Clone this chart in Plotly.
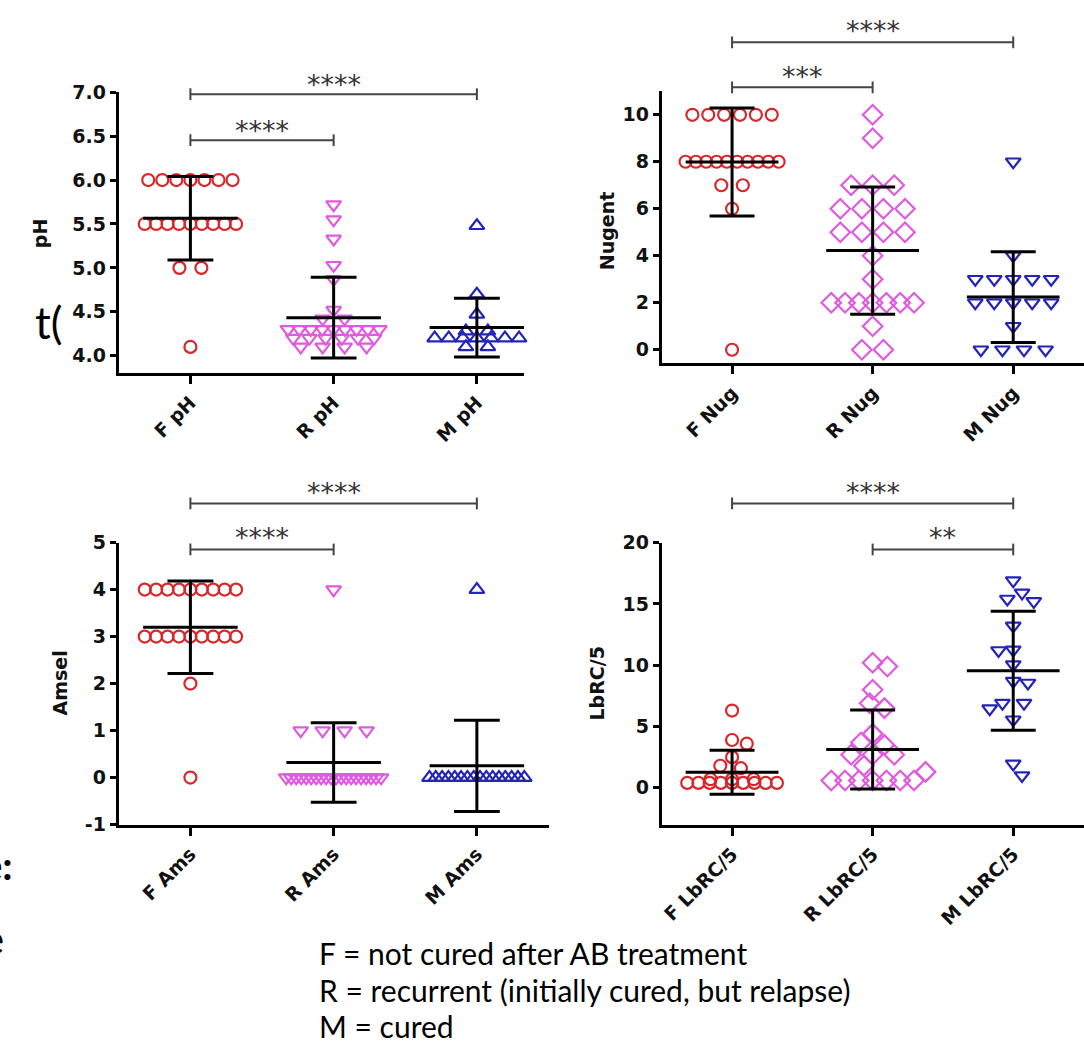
import numpy as np
import plotly.graph_objects as go

FIG_W, FIG_H = 1084, 1049

# ---------------- data ----------------
ph_labels = ["F pH", "R pH", "M pH"]
ph_F = [6.0, 6.0, 6.0, 6.0, 6.0, 6.0, 6.0, 5.5, 5.5, 5.5, 5.5, 5.5, 5.5, 5.5, 5.5, 5.5, 5.0, 5.0, 4.1]
ph_R = [5.72, 5.55, 5.33, 5.03, 4.87, 4.52, 4.42, 4.42,
        4.3, 4.3, 4.3, 4.3, 4.3, 4.3, 4.3, 4.3, 4.3,
        4.2, 4.2, 4.2, 4.2, 4.2, 4.2, 4.1, 4.1, 4.1, 4.1]
ph_M = [5.48, 4.7, 4.47, 4.28, 4.28, 4.2, 4.2, 4.2, 4.2, 4.2, 4.2, 4.2, 4.1, 4.1]
ph_mean = [5.565, 4.433, 4.32]
ph_sd = [0.475, 0.46, 0.335]

nug_labels = ["F Nug", "R Nug", "M Nug"]
nug_F = [10, 10, 10, 10, 10, 10, 8, 8, 8, 8, 8, 8, 8, 8, 8, 8, 7, 7, 6, 0]
nug_R = [10, 9, 7, 7, 7, 6, 6, 6, 6, 5, 5, 5, 5, 4, 3, 2, 2, 2, 2, 2, 2, 2, 1, 0, 0]
nug_M = [8, 4, 3, 3, 3, 3, 3, 2, 2, 2, 2, 2, 1, 0, 0, 0, 0]
nug_mean = [7.99, 4.22, 2.24]
nug_sd = [2.295, 2.71, 1.93]

ams_labels = ["F Ams", "R Ams", "M Ams"]
ams_F = [4, 4, 4, 4, 4, 4, 4, 4, 4, 3, 3, 3, 3, 3, 3, 3, 3, 3, 2, 0]
ams_R = [4, 1, 1, 1, 1, 0, 0, 0, 0, 0, 0, 0, 0, 0, 0, 0, 0, 0, 0, 0, 0, 0, 0, 0, 0]
ams_M = [4, 0, 0, 0, 0, 0, 0, 0, 0, 0, 0, 0, 0, 0, 0, 0, 0]
ams_mean = [3.2, 0.32, 0.25]
ams_sd = [0.985, 0.845, 0.97]

lb_labels = ["F LbRC/5", "R LbRC/5", "M LbRC/5"]
lb_F = [6.3, 3.9, 3.6, 2.5, 1.8, 1.6, 0.7, 0.7, 0.7,
        0.4, 0.4, 0.4, 0.4, 0.4, 0.4, 0.4, 0.4, 0.4]
lb_R = [10.2, 9.9, 8.0, 6.9, 6.5, 4.4, 3.7, 3.5, 2.7, 2.7, 2.7, 1.8, 1.3,
        0.6, 0.6, 0.6, 0.6, 0.6, 0.6, 0.6]
lb_M = [16.9, 15.9, 15.4, 15.2, 13.2, 11.25, 11.2, 10.05, 8.7, 8.55,
        6.9, 6.9, 6.45, 5.55, 1.95, 1.0]
lb_mean = [1.27, 3.12, 9.55]
lb_sd = [1.8, 3.22, 4.85]

ph_sig = [(0, 2, "****"), (0, 1, "****")]
nug_sig = [(0, 2, "****"), (0, 1, "***")]
ams_sig = [(0, 2, "****"), (0, 1, "****")]
lb_sig = [(0, 2, "****"), (1, 2, "**")]

legend_lines = ["F = not cured after AB treatment",
                "R = recurrent (initially cured, but relapse)",
                "M = cured"]

# ---------------- styling / layout ----------------
RED, PINK, BLUE = "#d8262b", "#e05ae0", "#2424b8"
CAT_PX = 143.5  # pixels per category

def px2paper_x(px):
    return px / FIG_W

def px2paper_y(py):
    return 1 - py / FIG_H

panels = [
    dict(id="", labels=ph_labels, groups=[ph_F, ph_R, ph_M], mean=ph_mean, sd=ph_sd,
         sig=ph_sig, title="pH",
         xpx=(117, 523), ypx=(83, 370), yrange=(3.8, 7.0),
         tickvals=[4.0, 4.5, 5.0, 5.5, 6.0, 6.5, 7.0],
         ticktext=["4.0", "4.5", "5.0", "5.5", "6.0", "6.5", "7.0"],
         symbols=["circle-open", "triangle-down-open", "triangle-up-open"],
         br_py=[85, 132], tx_py=[70, 117], title_pos=(38, 227)),
    dict(id="2", labels=nug_labels, groups=[nug_F, nug_R, nug_M], mean=nug_mean, sd=nug_sd,
         sig=nug_sig, title="Nugent",
         xpx=(661, 1092), ypx=(82, 360), yrange=(-0.583, 11.0),
         tickvals=[0, 2, 4, 6, 8, 10], ticktext=["0", "2", "4", "6", "8", "10"],
         symbols=["circle-open", "diamond-open", "triangle-down-open"],
         br_py=[32, 78], tx_py=[15, 62], title_pos=(606, 224)),
    dict(id="3", labels=ams_labels, groups=[ams_F, ams_R, ams_M], mean=ams_mean, sd=ams_sd,
         sig=ams_sig, title="Amsel",
         xpx=(117, 548), ypx=(543, 831), yrange=(-1, 5),
         tickvals=[-1, 0, 1, 2, 3, 4, 5], ticktext=["-1", "0", "1", "2", "3", "4", "5"],
         symbols=["circle-open", "triangle-down-open", "triangle-up-open"],
         br_py=[503, 550], tx_py=[487, 533], title_pos=(58, 686)),
    dict(id="4", labels=lb_labels, groups=[lb_F, lb_R, lb_M], mean=lb_mean, sd=lb_sd,
         sig=lb_sig, title="LbRC/5",
         xpx=(661, 1092), ypx=(543, 831), yrange=(-3, 20),
         tickvals=[0, 5, 10, 15, 20], ticktext=["0", "5", "10", "15", "20"],
         symbols=["circle-open", "diamond-open", "triangle-down-open"],
         br_py=[503, 550], tx_py=[487, 533], title_pos=(596, 687)),
]
COLORS = [RED, PINK, BLUE]


def swarm_offsets(values, px_per_unit, d=14.0, s_nat=22.0, step=3.0):
    vals = np.asarray(values, dtype=float)
    offs = np.full(len(vals), np.nan)
    ypx = vals * px_per_unit
    placed = []
    uniq, counts = np.unique(vals, return_counts=True)
    for u, c in zip(uniq, counts):
        if c >= 2:
            idx = np.where(vals == u)[0]
            width = min(95.0, 60.0 + 3.5 * c)
            s = min(s_nat, width / (c - 1))
            for k, i in enumerate(idx):
                offs[i] = (k - (c - 1) / 2.0) * s
                placed.append((offs[i], ypx[i]))
    order = [i for i in np.argsort(-vals, kind="stable") if np.isnan(offs[i])]
    flip = 1
    for i in order:
        k = 0
        found = None
        while found is None:
            cands = [0.0] if k == 0 else [flip * k * step, -flip * k * step]
            for cx in cands:
                if all((cx - px) ** 2 + (ypx[i] - py) ** 2 >= d * d for px, py in placed):
                    found = cx
                    break
            k += 1
        if found != 0:
            flip = -flip
        offs[i] = found
        placed.append((found, ypx[i]))
    return offs


fig = go.Figure()
layout = dict(width=FIG_W, height=FIG_H, margin=dict(l=0, r=0, t=0, b=0),
              paper_bgcolor="white", plot_bgcolor="white", showlegend=False)
shapes, annotations = [], []
TICKFONT = dict(family="DejaVu Sans", size=19, color="#111", weight="bold")

for p in panels:
    xa, ya = "x" + p["id"], "y" + p["id"]
    x0px, x1px = p["xpx"]
    y0px, y1px = p["ypx"]
    xr = (-0.5, -0.5 + (x1px - x0px) / CAT_PX)
    ppu = (y1px - y0px) / (p["yrange"][1] - p["yrange"][0])
    for g, (vals, col, sym) in enumerate(zip(p["groups"], COLORS, p["symbols"])):
        offs = swarm_offsets(vals, ppu)
        size = 12 if sym.startswith("circle") else (15 if sym.startswith("diamond") else 13)
        fig.add_trace(go.Scatter(
            x=g + offs / CAT_PX, y=vals, mode="markers", xaxis=xa, yaxis=ya,
            cliponaxis=False,
            marker=dict(symbol=sym, size=size, color=col, line=dict(width=2.2, color=col))))
    lx, ly = [], []
    for g, (m, s) in enumerate(zip(p["mean"], p["sd"])):
        lx += [g - 0.33, g + 0.33, None, g, g, None, g - 0.16, g + 0.16, None, g - 0.16, g + 0.16, None]
        ly += [m, m, None, m - s, m + s, None, m + s, m + s, None, m - s, m - s, None]
    fig.add_trace(go.Scatter(x=lx, y=ly, mode="lines", xaxis=xa, yaxis=ya, cliponaxis=False,
                             line=dict(color="black", width=3), hoverinfo="skip"))

    axkey = "xaxis" + p["id"]
    aykey = "yaxis" + p["id"]
    layout[axkey] = dict(domain=[px2paper_x(x0px), min(1.0, px2paper_x(x1px))], range=list(xr),
                         anchor=ya, tickmode="array", tickvals=[0, 1, 2], ticktext=p["labels"],
                         tickangle=-45, ticks="outside", ticklen=8, tickwidth=2.5, tickcolor="black",
                         showline=True, linewidth=3, linecolor="black", showgrid=False,
                         zeroline=False, tickfont=TICKFONT, fixedrange=True)
    layout[aykey] = dict(domain=[px2paper_y(y1px), px2paper_y(y0px)], range=list(p["yrange"]),
                         anchor=xa, tickmode="array", tickvals=p["tickvals"], ticktext=p["ticktext"],
                         ticks="outside", ticklen=6, tickwidth=2.5, tickcolor="black",
                         showline=True, linewidth=3, linecolor="black", showgrid=False,
                         zeroline=False, tickfont=TICKFONT, fixedrange=True)
    for (i, j, lab), bpy, tpy in zip(p["sig"], p["br_py"], p["tx_py"]):
        yb = px2paper_y(bpy)
        dy = 6 / FIG_H
        line = dict(color="#444", width=2)
        shapes.append(dict(type="line", xref=xa, yref="paper", x0=i, x1=j, y0=yb, y1=yb, line=line))
        shapes.append(dict(type="line", xref=xa, yref="paper", x0=i, x1=i, y0=yb - dy, y1=yb + dy, line=line))
        shapes.append(dict(type="line", xref=xa, yref="paper", x0=j, x1=j, y0=yb - dy, y1=yb + dy, line=line))
        annotations.append(dict(text=lab, xref=xa, yref="paper", x=(i + j) / 2, y=px2paper_y(tpy),
                                xanchor="center", yanchor="middle", showarrow=False, yshift=-5,
                                font=dict(family="DejaVu Sans", size=27, color="#333")))
    tx, ty = p["title_pos"]
    annotations.append(dict(text=p["title"], xref="paper", yref="paper", x=px2paper_x(tx),
                            y=px2paper_y(ty), xanchor="center", yanchor="middle", textangle=-90,
                            showarrow=False,
                            font=dict(family="DejaVu Sans", size=19, color="#111", weight="bold")))

for k, txt in enumerate(legend_lines):
    annotations.append(dict(text=txt, xref="paper", yref="paper", x=px2paper_x(316),
                            y=px2paper_y(962 + 37.5 * k), xanchor="left", yanchor="middle",
                            showarrow=False, font=dict(family="Lato", size=30, color="black")))

# clipped fragments of surrounding slide text
annotations.append(dict(text="t(", xref="paper", yref="paper", x=px2paper_x(31), y=px2paper_y(318),
                        xanchor="left", yanchor="middle", showarrow=False,
                        font=dict(family="Lato", size=44, color="black")))
annotations.append(dict(text="e:", xref="paper", yref="paper", x=px2paper_x(13), y=px2paper_y(872),
                        xanchor="right", yanchor="middle", showarrow=False,
                        font=dict(family="Lato", size=40, color="black", weight="bold")))
annotations.append(dict(text="e", xref="paper", yref="paper", x=px2paper_x(4), y=px2paper_y(948),
                        xanchor="right", yanchor="middle", showarrow=False,
                        font=dict(family="Lato", size=40, color="black")))

layout["shapes"] = shapes
layout["annotations"] = annotations
fig.update_layout(**layout)
fig.write_html("out.html")
